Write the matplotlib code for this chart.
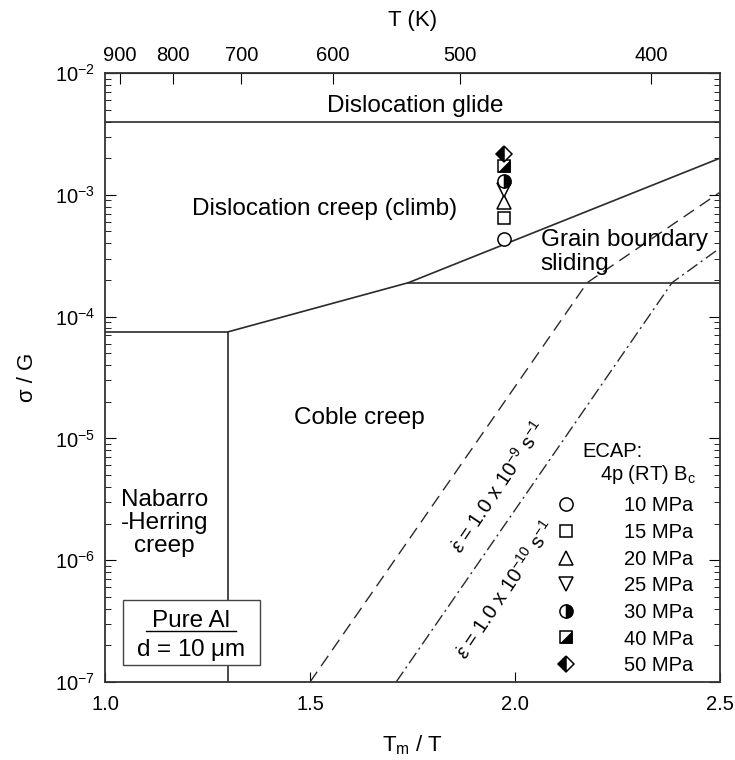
import numpy as np
import matplotlib
matplotlib.use("Agg")
import matplotlib.pyplot as plt
from matplotlib.path import Path
from matplotlib.patches import Rectangle
from matplotlib.lines import Line2D

plt.rcParams['font.family'] = ['Liberation Sans', 'DejaVu Sans']
plt.rcParams['mathtext.fontset'] = 'custom'
plt.rcParams['mathtext.rm'] = 'Liberation Sans'
plt.rcParams['mathtext.it'] = 'Liberation Sans:italic'

Tm = 933.0  # melting point of Al, K

# mechanism boundaries (Tm/T, sigma/G)
glide_s = 4.0e-3
nh_x = [1.0, 1.3, 1.3]
nh_s = [7.5e-5, 7.5e-5, 1e-7]
climb_x = [1.3, 1.74, 2.5]
climb_s = [7.5e-5, 1.9e-4, 2.0e-3]
gbs_x = [1.74, 2.5]
gbs_s = [1.9e-4, 1.9e-4]

# constant strain rate contours
rate9_x = [1.5, 2.176, 2.5]
rate9_s = [1e-7, 1.9e-4, 1.05e-3]
rate10_x = [1.71, 2.383, 2.5]
rate10_s = [1e-7, 1.9e-4, 3.66e-4]

# ECAP data at 473 K
T_test = 473.0
stress_lbl = ['10 MPa', '15 MPa', '20 MPa', '25 MPa', '30 MPa', '40 MPa', '50 MPa']
sigG = [4.34e-4, 6.5e-4, 8.7e-4, 1.09e-3, 1.30e-3, 1.74e-3, 2.17e-3]

T_ticks = [900, 800, 700, 600, 500, 400]

lc = '#2a2a2a'
fs = 14.5    # ticks / legend
fr = 17.5    # region labels

fig = plt.figure(figsize=(7.35, 7.6), dpi=100)
ax = fig.add_axes([0.1429, 0.1026, 0.8367, 0.8013])
ax.set_xlim(1.0, 2.5)
ax.set_yscale('log')
ax.set_ylim(1e-7, 1e-2)

ax.plot([1.0, 2.5], [glide_s, glide_s], color=lc, lw=1.2)
ax.plot(nh_x, nh_s, color=lc, lw=1.2)
ax.plot(climb_x, climb_s, color=lc, lw=1.2)
ax.plot(gbs_x, gbs_s, color=lc, lw=1.2)
ax.plot(rate9_x, rate9_s, color=lc, lw=1.0, dashes=(9, 5))
ax.plot(rate10_x, rate10_s, color=lc, lw=1.0, dashes=(9, 3, 1.5, 3))

# markers
xt = Tm / T_test
tri_path = Path([(-1, -1), (1, -1), (1, 1), (-1, -1)])
mk = dict(color='k', mec='k', mew=1.1, ls='none', zorder=5)
handles = []
h, = ax.plot([xt], [sigG[0]], marker='o', ms=9.5, mfc='white', **mk)
handles.append(h)
h, = ax.plot([xt], [sigG[1]], marker='s', ms=8.5, mfc='white', **mk)
handles.append(h)
h, = ax.plot([xt], [sigG[2]], marker='^', ms=9.5, mfc='white', **mk)
handles.append(h)
h, = ax.plot([xt], [sigG[3]], marker='v', ms=9.5, mfc='white', **mk)
handles.append(h)
h, = ax.plot([xt], [sigG[4]], marker='o', ms=9.5, mfc='k', fillstyle='right',
             markerfacecoloralt='white', **mk)
handles.append(h)
h1, = ax.plot([xt], [sigG[5]], marker='s', ms=8.5, mfc='white', **mk)
h2, = ax.plot([xt], [sigG[5]], marker=tri_path, ms=8.5, mfc='k', color='k',
              mec='k', mew=0.5, ls='none', zorder=6)
handles.append((h1, h2))
h, = ax.plot([xt], [sigG[6]], marker='D', ms=8.5, mfc='k', fillstyle='left',
             markerfacecoloralt='white', **mk)
handles.append(h)

leg = ax.legend(handles, stress_lbl, loc='upper left', bbox_to_anchor=(0.734, 0.305),
                frameon=False, fontsize=fs, handlelength=1.0, handletextpad=2.35,
                labelspacing=0.38, borderpad=0, borderaxespad=0, numpoints=1)
ax.text(0.776, 0.378, 'ECAP:', transform=ax.transAxes, fontsize=fs, va='center')
ax.text(0.805, 0.340, '4p (RT) B$_\\mathrm{c}$', transform=ax.transAxes,
        fontsize=fs, va='center')

# region labels
ax.text(1.756, 4.8e-3, 'Dislocation glide', fontsize=fr, ha='center', va='baseline')
ax.text(1.535, 7.6e-4, 'Dislocation creep (climb)', fontsize=fr, ha='center',
        va='center')
ax.text(2.063, 3.4e-4, 'Grain boundary\nsliding', fontsize=fr, ha='left', va='center',
        linespacing=1.1)
ax.text(1.62, 1.47e-5, 'Coble creep', fontsize=fr, ha='center', va='center')
ax.text(1.145, 2.02e-6, 'Nabarro\n-Herring\ncreep', fontsize=fr, ha='center',
        va='center', linespacing=1.05)

ax.text(1.96, 4.0e-6, r'$\dot{\varepsilon}$ = 1.0 x 10$^{-9}$ s$^{-1}$', fontsize=fs,
        ha='center', va='center', rotation=56, rotation_mode='anchor')
ax.text(1.976, 5.7e-7, r'$\dot{\varepsilon}$ = 1.0 x 10$^{-10}$ s$^{-1}$', fontsize=fs,
        ha='center', va='center', rotation=56, rotation_mode='anchor')

# Pure Al box
ax.add_patch(Rectangle((0.029, 0.028), 0.223, 0.107, transform=ax.transAxes,
                       facecolor='white', edgecolor='#444444', lw=1.0, zorder=7))
ax.text(0.14, 0.100, 'Pure Al', transform=ax.transAxes, fontsize=fr,
        ha='center', va='center', zorder=8)
ax.add_line(Line2D([0.067, 0.213], [0.083, 0.083], transform=ax.transAxes,
                   color='k', lw=1.0, zorder=8))
ax.text(0.14, 0.053, r'd = 10 $\mathrm{\mu}$m', transform=ax.transAxes, fontsize=fr,
        ha='center', va='center', zorder=8)

# axes styling
for sp in ax.spines.values():
    sp.set_linewidth(1.3)
    sp.set_color('#333333')
ax.set_xticks([1.0, 1.5, 2.0, 2.5])
ax.set_xticklabels(['1.0', '1.5', '2.0', '2.5'])
ax.tick_params(axis='x', which='major', direction='in', length=7, top=False,
               labelsize=fs, pad=9)
ax.tick_params(axis='x', which='minor', bottom=False, top=False)
ax.tick_params(axis='y', which='major', direction='in', length=8, left=True,
               right=True, labelsize=fs, pad=7)
ax.tick_params(axis='y', which='minor', direction='in', length=4, left=True, right=True)
ax.set_xlabel('T$_\\mathrm{m}$ / T', fontsize=16, labelpad=14)
ax.set_ylabel('σ / G', fontsize=16, labelpad=12)


def t_conv(x):
    x = np.asarray(x, dtype=float)
    with np.errstate(divide='ignore', invalid='ignore'):
        return Tm / x


sec = ax.secondary_xaxis('top', functions=(t_conv, t_conv))
sec.set_xticks(T_ticks)
sec.set_xticklabels([str(t) for t in T_ticks])
sec.tick_params(axis='x', which='major', direction='in', length=8, labelsize=fs, pad=6)
sec.tick_params(axis='x', which='minor', top=False, length=0)
sec.set_xlabel('T (K)', fontsize=16, labelpad=14)

fig.savefig('out.png', dpi=100)
